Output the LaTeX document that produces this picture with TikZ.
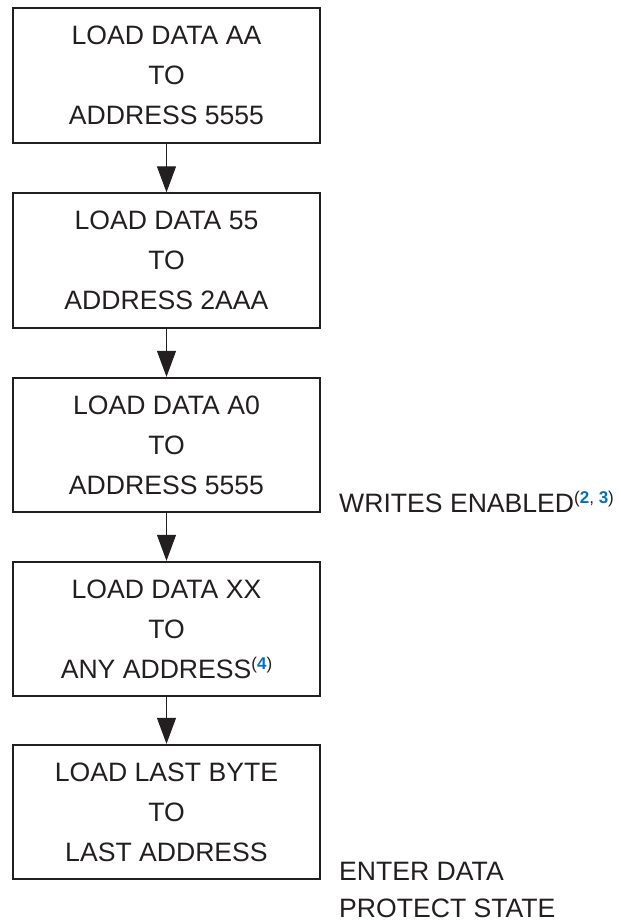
\documentclass[tikz,border=0pt]{standalone}
\usepackage{fontspec}
\setmainfont{Liberation Sans}
\usetikzlibrary{arrows.meta}
\definecolor{refblue}{RGB}{0,112,192}
\definecolor{ink}{RGB}{35,31,32}
\newcommand{\supnote}[1]{\raisebox{9pt}{\fontsize{17}{17}\selectfont #1}}
\newcommand{\bn}[1]{\textcolor{refblue}{\textbf{#1}}}
\begin{document}
\begin{tikzpicture}[x=1pt,y=-1pt,
  stepbox/.style={draw=ink, line width=1.8pt, rectangle, minimum width=307pt,
    minimum height=134.5pt, inner sep=0pt, align=center, text=ink,
    font=\fontsize{26.6}{40}\selectfont},
  flow/.style={draw=ink, line width=1pt, -{Triangle[width=19pt,length=26pt]}},
  sidelabel/.style={inner sep=0pt, align=left, text=ink,
    font=\fontsize{26.6}{37}\selectfont}]
\useasboundingbox (0,0) rectangle (621,922);
\node[stepbox] (b1) at (166.5,75.5) {LOAD DATA AA\\TO\\ADDRESS 5555};
\node[stepbox] (b2) at (166.5,260.5) {LOAD DATA 55\\TO\\ADDRESS 2AAA};
\node[stepbox] (b3) at (166.5,445) {LOAD DATA A0\\TO\\ADDRESS 5555};
\node[stepbox] (b4) at (166.5,629) {LOAD DATA XX\\TO\\ANY ADDRESS\supnote{(\bn{4})}};
\node[stepbox] (b5) at (166.5,812) {LOAD LAST BYTE\\TO\\LAST ADDRESS};
\draw[flow] (b1) -- (b2);
\draw[flow] (b2) -- (b3);
\draw[flow] (b3) -- (b4);
\draw[flow] (b4) -- (b5);
\node[sidelabel, anchor=base west] (we) at (339,512) {WRITES ENABLED\supnote{(\bn{2}, \bn{3})}};
\node[sidelabel, anchor=base west] (ed) at (339,917.5) {ENTER DATA\\PROTECT STATE};
\end{tikzpicture}
\end{document}
